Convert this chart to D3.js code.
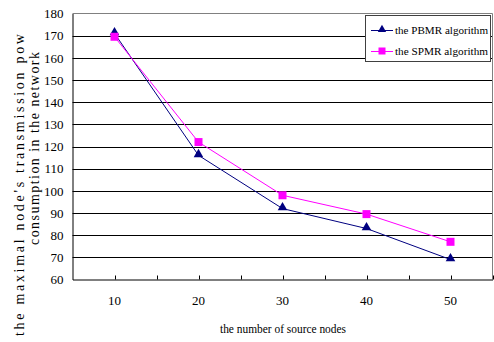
<!DOCTYPE html>
<html><head><meta charset="utf-8">
<script src="https://cdn.jsdelivr.net/npm/d3@7"></script>
<style>body{margin:0;background:#fff}svg{display:block}text{font-family:"Liberation Serif","Times New Roman",serif;fill:#000}</style>
</head><body>
<svg id="c" width="494" height="342"></svg>
<script>
const categories = [10, 20, 30, 40, 50];
const pbmr = [171, 116, 92, 83, 69];
const spmr = [169.5, 122, 98, 89.5, 77];
const yTicks = [60, 70, 80, 90, 100, 110, 120, 130, 140, 150, 160, 170, 180];
const seriesNames = ["the PBMR algorithm", "the SPMR algorithm"];
const xTitle = "the number of source nodes";
const yTitle1 = "the maximal node's transmission pow";
const yTitle2 = "consumption in the network";

const svg = d3.select("#c");
const L = 72.5, R = 492.5, T = 13.5, B = 279.5;
const x = d3.scaleBand().domain(categories).range([L, R]).padding(0);
const y = d3.scaleLinear().domain([60, 180]).range([B, T]);
const cx = d => x(d) + x.bandwidth() / 2;

// gridlines
svg.append("g").selectAll("line").data(yTicks.filter(v => v > 60 && v < 180)).join("line")
  .attr("x1", L).attr("x2", R).attr("y1", d => Math.round(y(d)) + 0.5).attr("y2", d => Math.round(y(d)) + 0.5)
  .attr("stroke", "#000").attr("stroke-width", 1);
// border top/right
svg.append("path").attr("d", `M${L},${T}H${R}V${B}`).attr("fill", "none").attr("stroke", "#808080");
// axes
const yAxis = d3.axisLeft(y).tickValues(yTicks).tickSize(0).tickPadding(9).tickFormat(d3.format("d"));
const gy = svg.append("g").attr("transform", `translate(${L},0)`).call(yAxis);
gy.select(".domain").attr("stroke", "#000");
gy.selectAll("text").style("font-size", "13px").style("font-family", "'Liberation Serif',serif");

const gx = svg.append("g").attr("transform", `translate(0,${B})`).call(d3.axisBottom(x).tickSize(0).tickPadding(16));
gx.select(".domain").attr("stroke", "#000");
gx.selectAll("text").style("font-size", "13px").style("font-family", "'Liberation Serif',serif");
// inside ticks at centers and boundaries
const tickPos = [];
categories.forEach((c, i) => { tickPos.push(cx(c)); tickPos.push(x(c) + x.bandwidth()); });
svg.append("g").selectAll("line").data(tickPos).join("line")
  .attr("x1", d => Math.round(d) + 0.5).attr("x2", d => Math.round(d) + 0.5)
  .attr("y1", B).attr("y2", B - 4).attr("stroke", "#000");

// lines
const line = d3.line().x((d, i) => cx(categories[i])).y(d => y(d));
svg.append("path").datum(pbmr).attr("d", line).attr("fill", "none").attr("stroke", "#000080").attr("stroke-width", 1);
svg.append("path").datum(spmr).attr("d", line).attr("fill", "none").attr("stroke", "#ff00ff").attr("stroke-width", 1);
const tri = d3.symbol().type(d3.symbolTriangle).size(40);
svg.append("g").selectAll("path").data(pbmr).join("path")
  .attr("d", tri).attr("transform", (d, i) => `translate(${cx(categories[i])},${y(d) - 1})`).attr("fill", "#000080");
svg.append("g").selectAll("rect").data(spmr).join("rect")
  .attr("x", (d, i) => cx(categories[i]) - 4).attr("y", d => y(d) - 4).attr("width", 8).attr("height", 8).attr("fill", "#ff00ff");

// legend
const lg = svg.append("g");
lg.append("rect").attr("x", 365.5).attr("y", 15.5).attr("width", 125).attr("height", 46)
  .attr("fill", "#fff").attr("stroke", "#404040");
const lrows = [{n: seriesNames[0], c: "#000080", yy: 30}, {n: seriesNames[1], c: "#ff00ff", yy: 51}];
lrows.forEach((r, i) => {
  lg.append("line").attr("x1", 371).attr("x2", 393).attr("y1", r.yy + 0.5).attr("y2", r.yy + 0.5).attr("stroke", r.c);
  if (i === 0) lg.append("path").attr("d", d3.symbol().type(d3.symbolTriangle).size(30)).attr("transform", `translate(382,${r.yy - 0.5})`).attr("fill", r.c);
  else lg.append("rect").attr("x", 378.5).attr("y", r.yy - 3.5).attr("width", 7).attr("height", 7).attr("fill", r.c);
  lg.append("text").attr("x", 395).attr("y", r.yy + 4)
    .attr("textLength", 93).attr("lengthAdjust", "spacingAndGlyphs")
    .style("font-size", "11px").text(r.n);
});

// titles
svg.append("text").attr("x", 283).attr("y", 333).attr("text-anchor", "middle")
  .attr("textLength", 126).attr("lengthAdjust", "spacingAndGlyphs").style("font-size", "13px").text(xTitle);
svg.append("text").attr("transform", "translate(24,336) rotate(-90)").attr("text-anchor", "start")
  .attr("textLength", 302).attr("lengthAdjust", "spacing").style("font-size", "14px").text(yTitle1);
svg.append("text").attr("transform", "translate(39,148.5) rotate(-90)").attr("text-anchor", "middle")
  .attr("textLength", 193).attr("lengthAdjust", "spacing").style("font-size", "14px").text(yTitle2);
</script>
</body></html>
